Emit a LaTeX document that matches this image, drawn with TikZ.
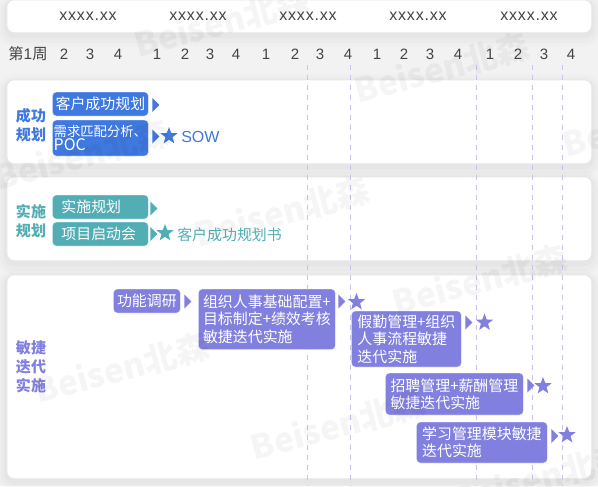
\documentclass[tikz,border=0pt]{standalone}
\usepackage{fontspec}
\setmainfont{Noto Sans CJK SC}
\newfontfamily\latinfont[LetterSpace=5]{Liberation Sans}
\newfontfamily\plainfont{Liberation Sans}
\usetikzlibrary{positioning,shapes.geometric}
\definecolor{pagebg}{HTML}{F2F2F2}
\definecolor{cblue}{HTML}{3F78DE}
\definecolor{cteal}{HTML}{52AEB4}
\definecolor{cpurp}{HTML}{8280DE}
\definecolor{cguide}{HTML}{C6C3F0}
\definecolor{cweek}{HTML}{444444}
\tikzset{
  panel/.style={fill=white, rounded corners=5.5pt, anchor=north west, inner sep=0pt,
                minimum width=438pt,
                preaction={draw=black, draw opacity=.012, line width=15pt, transform canvas={yshift=-3pt}},
                preaction={draw=black, draw opacity=.014, line width=10pt, transform canvas={yshift=-3pt}},
                preaction={draw=black, draw opacity=.018, line width=5pt, transform canvas={yshift=-2pt}}},
  blk/.style={draw=white, draw opacity=.45, line width=.6pt, rounded corners=3pt, align=left,
              inner sep=0pt, anchor=west, text=white,
              font=\fontsize{11.2}{13}\selectfont},
  fillb/.style={fill=cblue},
  fillt/.style={fill=cteal},
  fillp/.style={fill=cpurp},
  tri/.style={isosceles triangle, isosceles triangle stretches, inner sep=0pt,
              minimum width=10.5pt, minimum height=5.25pt, anchor=west},
  mark5/.style={star, star points=5, star point ratio=2.4, inner sep=0pt, minimum size=13.5pt},
  sec/.style={align=center, inner sep=0pt, font=\fontsize{11.25}{14.25}\selectfont\bfseries},
  wk/.style={inner sep=0pt, text=cweek, font=\plainfont\fontsize{11.25}{13}\selectfont},
  mon/.style={inner sep=0pt, text=cweek, font=\latinfont\fontsize{12}{14}\selectfont},
  guide/.style={draw=cguide, line width=.7pt, dash pattern=on 3.75pt off 3.75pt},
  wmark/.style={inner sep=0pt, rotate=15, text=black, text opacity=.04,
                font=\fontsize{25}{28}\selectfont\bfseries},
}
\begin{document}
\begin{tikzpicture}[x=.75pt,y=-.75pt]
  \path[use as bounding box, clip] (0,0) rectangle (598,486);
  \fill[pagebg] (0,0) rectangle (598,486);

  \node[panel,minimum height=24pt] (hdr) at (7,0) {};
  \node[panel,minimum height=62.25pt] (p1) at (7,80) {};
  \node[panel,minimum height=62.25pt] (p2) at (7,177) {};
  \node[panel,minimum height=152.25pt] (p3) at (7,275) {};

  % months
  \node[mon] (m1) at (88,16) {xxxx.xx}; \node[mon] (m2) at (198,16) {xxxx.xx};
  \node[mon] (m3) at (308,16) {xxxx.xx}; \node[mon] (m4) at (418,16) {xxxx.xx};
  \node[mon] (m5) at (529,16) {xxxx.xx};

  % weeks
  \node[wk,font=\fontsize{11.5}{13}\selectfont] (w1) at (28,54) {第{\plainfont 1}周};
  \node[wk] (w2) at (64,54) {2}; \node[wk] (w3) at (90,54) {3}; \node[wk] (w4) at (118,54) {4};
  \node[wk] (w5) at (157,54) {1}; \node[wk] (w6) at (185,54) {2}; \node[wk] (w7) at (210,54) {3};
  \node[wk] (w8) at (236,54) {4}; \node[wk] (w9) at (266,54) {1}; \node[wk] (w10) at (295,54) {2};
  \node[wk] (w11) at (320,54) {3}; \node[wk] (w12) at (348,54) {4}; \node[wk] (w13) at (377,54) {1};
  \node[wk] (w14) at (404,54) {2}; \node[wk] (w15) at (430,54) {3}; \node[wk] (w16) at (458,54) {4};
  \node[wk] (w17) at (490,54) {1}; \node[wk] (w18) at (518,54) {2}; \node[wk] (w19) at (544,54) {3};
  \node[wk] (w20) at (571,54) {4};

  \draw[guide] (307.5,65) -- (307.5,486); \draw[guide] (350,65) -- (350,486);
  \draw[guide] (476,65) -- (476,486); \draw[guide] (532,65) -- (532,486);
  \draw[guide] (562.5,65) -- (562.5,486);

  % success planning
  \node[sec,text=cblue] (s1) at (31,125.5) {成功\\规划};
  \node[blk,fillb,minimum width=72pt,minimum height=18pt] (b1) at (52,104) {客户成功规划};
  \node[blk,fillb,minimum width=72pt,minimum height=27pt,font=\fontsize{10}{9}\selectfont] (b2) at (52,138) {需求匹配分析、\\{\fontsize{12}{9}\selectfont POC}};
  \node[tri,fillb] (t1) at (152,105) {};
  \node[tri,fillb] (t2) at (152,136.5) {};
  \node[mark5,fillb] (k1) at (169,136) {};
  \node[inner sep=0pt,anchor=west,text=cblue,font=\plainfont\fontsize{12}{14}\selectfont] (d1) at (181,137) {SOW};

  % implementation planning
  \node[sec,text=cteal] (s2) at (31,221.5) {实施\\规划};
  \node[blk,fillt,minimum width=72pt,minimum height=18pt,text width=58.5pt] (b3) at (52,207) {实施规划};
  \node[blk,fillt,minimum width=72pt,minimum height=18pt,text width=58.5pt] (b4) at (52,234) {项目启动会};
  \node[tri,fillt] (t3) at (150,208.5) {};
  \node[tri,fillt] (t4) at (150,234) {};
  \node[mark5,fillt] (k2) at (165,233) {};
  \node[inner sep=0pt,anchor=west,text=cteal,font=\fontsize{11.2}{13}\selectfont] (d2) at (177,235) {客户成功规划书};

  % agile delivery
  \node[sec,text=cpurp] (s3) at (31,367) {敏捷\\迭代\\实施};
  \node[blk,fillp,minimum width=50.25pt,minimum height=18pt] (b5) at (113,301) {功能调研};
  \node[tri,fillp] (t5) at (184,301.5) {};
  \node[blk,fillp,minimum width=102.75pt,minimum height=45.4pt] (b6) at (198,319.3) {组织人事基础配置+\\目标制定+绩效考核\\敏捷迭代实施};
  \node[tri,fillp] (t6) at (338,301.5) {};
  \node[mark5,fillp] (k3) at (356.5,302) {};
  \node[blk,fillp,minimum width=82.5pt,minimum height=42pt] (b7) at (351,339) {假勤管理+组织\\人事流程敏捷\\迭代实施};
  \node[tri,fillp] (t7) at (465,322.5) {};
  \node[mark5,fillp] (k4) at (484.5,322.5) {};
  \node[blk,fillp,minimum width=103.5pt,minimum height=31.5pt] (b8) at (385,394) {招聘管理+薪酬管理\\敏捷迭代实施};
  \node[tri,fillp] (t8) at (527,385.5) {};
  \node[mark5,fillp] (k5) at (543,386) {};
  \node[blk,fillp,minimum width=98.25pt,minimum height=30.75pt] (b9) at (416,442.5) {学习管理模块敏捷\\迭代实施};
  \node[tri,fillp] (t9) at (551,436) {};
  \node[mark5,fillp] (k6) at (567,435) {};

  % watermark
  \node[wmark] (wm1) at (222,22) {Beisen北森};
  \node[wmark] (wm2) at (442,68) {Beisen北森};
  \node[wmark] (wm3) at (82,155) {Beisen北森};
  \node[wmark] (wm4) at (282,212) {Beisen北森};
  \node[wmark] (wm5) at (650,122) {Beisen北森};
  \node[wmark] (wm6) at (122,368) {Beisen北森};
  \node[wmark] (wm7) at (338,425) {Beisen北森};
  \node[wmark] (wm8) at (480,280) {Beisen北森};
  \node[wmark] (wm9) at (540,478) {Beisen北森};
\end{tikzpicture}
\end{document}
